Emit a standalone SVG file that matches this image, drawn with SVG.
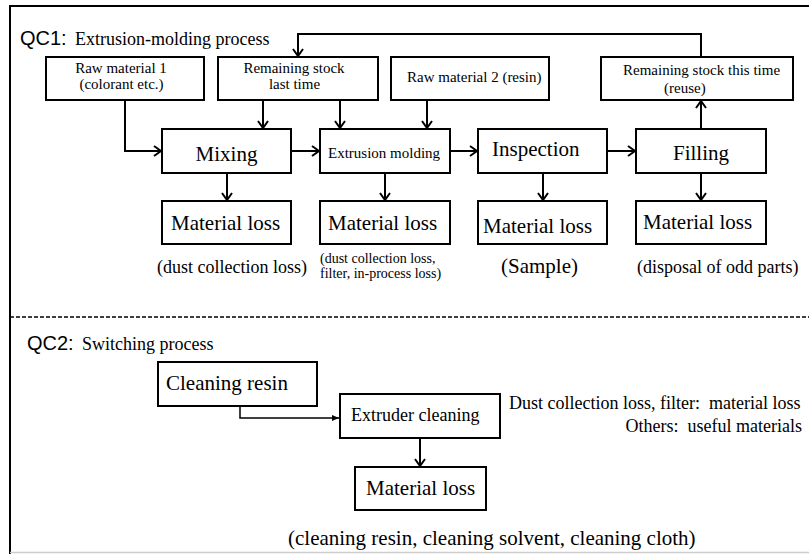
<svg xmlns="http://www.w3.org/2000/svg" width="809" height="554" viewBox="0 0 809 554">
<style>
.box{fill:#fff;stroke:#000;stroke-width:2}
.s{font-family:"Liberation Serif","Times New Roman","Noto Sans CJK JP",serif;fill:#000}
.sans{font-family:"Liberation Sans",Arial,sans-serif;fill:#000;font-size:20px}
.big{font-size:21px}
.med{font-size:15px}
.sm{font-size:14px}
.cap{font-size:18px}
.c{text-anchor:middle}
.e{text-anchor:end}
.con{fill:none;stroke:#000;stroke-width:2}
.thin{fill:none;stroke:#000;stroke-width:1.5}
</style>
<defs>
<marker id="open" markerUnits="userSpaceOnUse" markerWidth="14" markerHeight="14" refX="8" refY="6" orient="auto">
<path d="M1,1 L8,6 L1,11" fill="none" stroke="#000" stroke-width="2"/>
</marker>
<marker id="solid" markerUnits="userSpaceOnUse" markerWidth="10" markerHeight="10" refX="7" refY="4" orient="auto">
<path d="M0,1 L7,4 L0,7 Z" fill="#000"/>
</marker>
</defs>
<rect width="809" height="554" fill="#fff"/>
<g id="frame">
<line x1="9" y1="6" x2="809" y2="6" stroke="#000" stroke-width="2"/>
<line x1="10" y1="5" x2="10" y2="554" stroke="#000" stroke-width="2"/>
<line x1="10" y1="552.5" x2="809" y2="552.5" stroke="#ccc" stroke-width="1.5"/>
<line x1="10" y1="317" x2="809" y2="317" stroke="#000" stroke-width="1.5" stroke-dasharray="4 2"/>
</g>
<g id="titles">
<text class="sans" x="20" y="45">QC1:</text>
<text class="s cap" x="75" y="45">Extrusion-molding process</text>
<text class="sans" x="27" y="350">QC2:</text>
<text class="s cap" x="82" y="350">Switching process</text>
</g>
<g id="connectors">
<path class="con" d="M125,100 V151 H161" marker-end="url(#open)"/>
<path class="con" d="M263,100 V128" marker-end="url(#open)"/>
<path class="con" d="M340,100 V128" marker-end="url(#open)"/>
<path class="con" d="M427,100 V128" marker-end="url(#open)"/>
<path class="con" d="M291,151 H319" marker-end="url(#open)"/>
<path class="con" d="M450,151 H477" marker-end="url(#open)"/>
<path class="con" d="M607,151 H635" marker-end="url(#open)"/>
<path class="con" d="M701,129 V101" marker-end="url(#open)"/>
<path class="con" d="M701,57 V34 H298 V56" marker-end="url(#open)"/>
<path class="con" d="M227,173 V200" marker-end="url(#open)"/>
<path class="con" d="M385,173 V200" marker-end="url(#open)"/>
<path class="con" d="M543,173 V200" marker-end="url(#open)"/>
<path class="con" d="M701,173 V200" marker-end="url(#open)"/>
<path class="thin" d="M240,406 V418 H339" marker-end="url(#solid)"/>
<path class="con" d="M420,438 V466" marker-end="url(#open)"/>
</g>
<g id="rm1"><rect class="box" x="46" y="57" width="158" height="43"/>
<text class="s med c" x="121" y="73">Raw material 1</text><text class="s med c" x="121.5" y="89">(colorant etc.)</text></g>
<g id="rslt"><rect class="box" x="218" y="57" width="160" height="43"/>
<text class="s med c" x="294" y="73">Remaining stock</text><text class="s med c" x="294.5" y="89">last time</text></g>
<g id="rm2"><rect class="box" x="391" y="57" width="158" height="43"/>
<text class="s med" x="407" y="82">Raw material 2 (resin)</text></g>
<g id="rsth"><rect class="box" x="601" y="57" width="192" height="43"/>
<text class="s med" x="623" y="75">Remaining stock this time</text><text class="s med" x="664" y="93">(reuse)</text></g>
<g id="mix"><rect class="box" x="162" y="129" width="129" height="44"/>
<text class="s big c" x="226.5" y="161">Mixing</text></g>
<g id="ext"><rect class="box" x="320" y="129" width="130" height="44"/>
<text class="s med" x="328" y="158">Extrusion molding</text></g>
<g id="insp"><rect class="box" x="478" y="129" width="129" height="44"/>
<text class="s big" x="492" y="156">Inspection</text></g>
<g id="fill"><rect class="box" x="636" y="129" width="130" height="44"/>
<text class="s big" x="673" y="160">Filling</text></g>
<g id="mixLoss"><rect class="box" x="162" y="201" width="129" height="43"/>
<text class="s big" x="171" y="230">Material loss</text>
<text class="s cap" x="157" y="273">(dust collection loss)</text></g>
<g id="extLoss"><rect class="box" x="320" y="201" width="130" height="43"/>
<text class="s big" x="328" y="230">Material loss</text>
<text class="s sm" x="320" y="263">(dust collection loss,</text><text class="s sm" x="320" y="278">filter, in-process loss)</text></g>
<g id="inspLoss"><rect class="box" x="478" y="201" width="129" height="43"/>
<text class="s big" x="483" y="233">Material loss</text>
<text class="s big" x="501" y="273">(Sample)</text></g>
<g id="fillLoss"><rect class="box" x="636" y="201" width="130" height="43"/>
<text class="s big" x="643" y="229">Material loss</text>
<text class="s cap" x="637" y="273">(disposal of odd parts)</text></g>
<g id="cleanResin"><rect class="box" x="158" y="362" width="159" height="44"/>
<text class="s big" x="166" y="390">Cleaning resin</text></g>
<g id="extruder"><rect class="box" x="340" y="394" width="160" height="44"/>
<text class="s cap" x="351" y="421">Extruder cleaning</text></g>
<g id="cleanLoss"><rect class="box" x="355" y="467" width="131" height="43"/>
<text class="s big" x="366" y="495">Material loss</text>
<text class="s big" x="288" y="545">(cleaning resin, cleaning solvent, cleaning cloth)</text></g>
<g id="notes">
<text class="s cap" x="509" y="409" xml:space="preserve" style="white-space:pre">Dust collection loss, filter:  material loss</text>
<text class="s cap e" x="802" y="432" xml:space="preserve" style="white-space:pre">Others:  useful materials</text>
</g>
</svg>
